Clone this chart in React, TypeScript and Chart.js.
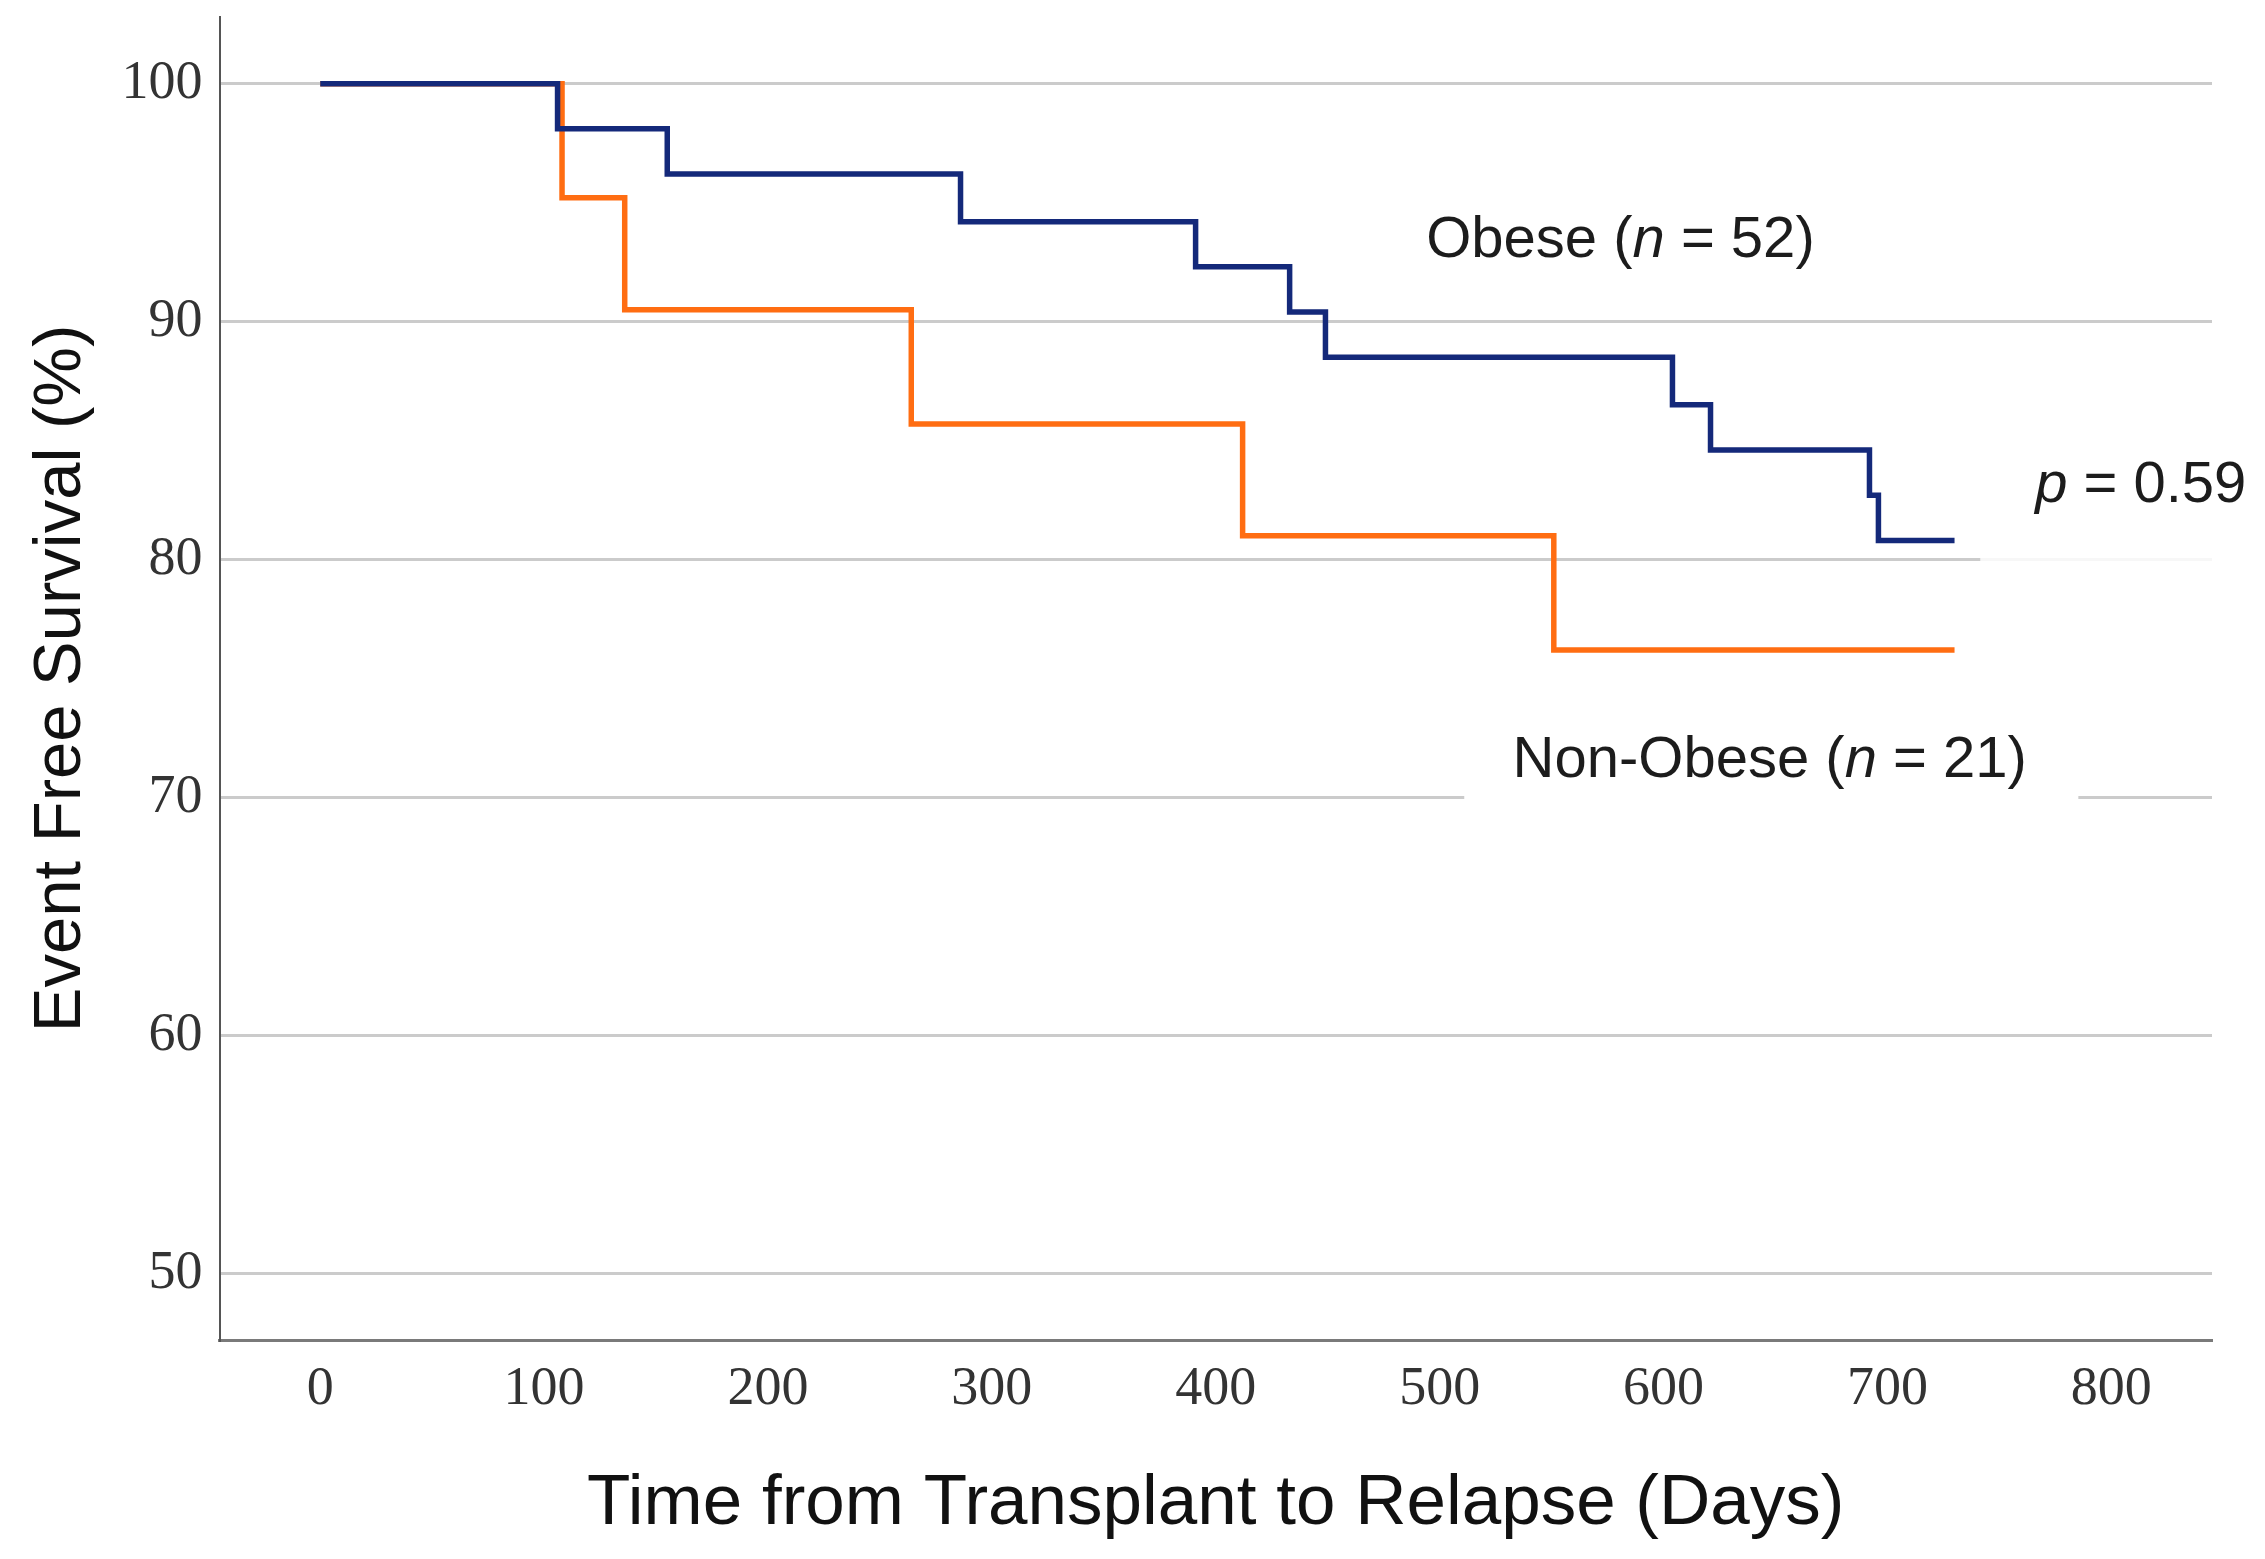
import React, { useEffect, useRef } from "react";
import { Chart, registerables } from "chart.js";

Chart.register(...registerables);

// ---- data ----
const obeseDays = [0, 106, 155, 286, 391, 433, 449, 604, 621, 692, 696, 730];
const obeseSurvival = [100, 98.1, 96.2, 94.2, 92.3, 90.4, 88.5, 86.5, 84.6, 82.7, 80.8, 80.8];
const nonObeseDays = [0, 108, 136, 264, 412, 551, 730];
const nonObeseSurvival = [100, 95.2, 90.5, 85.7, 81.0, 76.2, 76.2];
const xTickValues = [0, 100, 200, 300, 400, 500, 600, 700, 800];
const yTickValues = [50, 60, 70, 80, 90, 100];
const xTitle = "Time from Transplant to Relapse (Days)";
const yTitle = "Event Free Survival (%)";
const obeseLabel: [string, boolean][] = [["Obese (", false], ["n", true], [" = 52)", false]];
const pLabel: [string, boolean][] = [["p", true], [" = 0.59", false]];
const nonObeseLabel: [string, boolean][] = [["Non-Obese (", false], ["n", true], [" = 21)", false]];

// ---- layout of annotations (in data units) ----
const annotationLayout = [
  { parts: obeseLabel, day: 494, value: 93.4, mask: null as null | number[], alpha: 1 },
  { parts: pLabel, day: 766, value: 83.1, mask: [741.5, 900, 85.5, 78.5], alpha: 0.85 },
  { parts: nonObeseLabel, day: 532.6, value: 71.55, mask: [511, 785.3, 73.6, 68.8], alpha: 1 },
];

const W = 2265;
const H = 1559;

const annotationPlugin = {
  id: "kmAnnotations",
  beforeDatasetsDraw(chart: any) {
    const { ctx, scales, chartArea } = chart;
    const xs = scales.x;
    const ys = scales.y;
    ctx.save();
    for (const a of annotationLayout) {
      if (a.mask) {
        const x0 = xs.getPixelForValue(a.mask[0]);
        const x1 = Math.min(xs.getPixelForValue(a.mask[1]), chartArea.right + 2);
        const y0 = ys.getPixelForValue(a.mask[2]);
        const y1 = ys.getPixelForValue(a.mask[3]);
        ctx.fillStyle = `rgba(255,255,255,${a.alpha})`;
        ctx.fillRect(x0, y0, x1 - x0, y1 - y0);
      }
    }
    ctx.fillStyle = "#1c1c1c";
    ctx.textBaseline = "middle";
    ctx.textAlign = "left";
    for (const a of annotationLayout) {
      let x = xs.getPixelForValue(a.day);
      const y = ys.getPixelForValue(a.value);
      for (const [text, italic] of a.parts) {
        ctx.font = `${italic ? "italic " : ""}58px 'Liberation Sans', Arial, sans-serif`;
        ctx.fillText(text, x, y);
        x += ctx.measureText(text).width;
      }
    }
    ctx.restore();
  },
};

const zeroPadding = (scale: any) => {
  scale.paddingTop = 0;
  scale.paddingBottom = 0;
  scale.paddingLeft = 0;
  scale.paddingRight = 0;
};

export default function App() {
  const canvasRef = useRef<HTMLCanvasElement | null>(null);

  useEffect(() => {
    const canvas = canvasRef.current;
    if (!canvas) return;
    const chart = new Chart(canvas, {
      type: "line",
      data: {
        datasets: [
          {
            label: "Obese",
            data: obeseDays.map((d, i) => ({ x: d, y: obeseSurvival[i] })),
            borderColor: "#14297a",
            borderWidth: 5.5,
            stepped: "before",
            pointRadius: 0,
            fill: false,
            borderJoinStyle: "miter",
            borderCapStyle: "butt",
          },
          {
            label: "Non-Obese",
            data: nonObeseDays.map((d, i) => ({ x: d, y: nonObeseSurvival[i] })),
            borderColor: "#ff6d12",
            borderWidth: 5.5,
            stepped: "before",
            pointRadius: 0,
            fill: false,
            borderJoinStyle: "miter",
            borderCapStyle: "butt",
          },
        ],
      },
      options: {
        animation: false,
        responsive: false,
        devicePixelRatio: 1,
        layout: { padding: { top: 17, right: 53, left: 0, bottom: 0 } },
        plugins: {
          legend: { display: false },
          tooltip: { enabled: false },
        },
        scales: {
          x: {
            type: "linear",
            min: -45,
            max: 845,
            afterBuildTicks: (scale: any) => {
              scale.ticks = xTickValues.map((v) => ({ value: v }));
            },
            afterFit: (scale: any) => {
              scale.height = H - 1340;
              zeroPadding(scale);
            },
            grid: { display: false, drawTicks: false },
            border: { display: true, color: "#7a7a7a", width: 3 },
            ticks: {
              padding: 17,
              color: "#333333",
              font: { family: "'Liberation Serif', 'Times New Roman', serif", size: 54, lineHeight: 1.2 },
              maxRotation: 0,
              autoSkip: false,
            },
            title: {
              display: true,
              text: xTitle,
              color: "#111111",
              font: { family: "'Liberation Sans', Arial, sans-serif", size: 71, lineHeight: 1.2 },
              padding: { top: 0, bottom: 12 },
            },
          },
          y: {
            type: "linear",
            min: 47.2,
            max: 102.8,
            afterBuildTicks: (scale: any) => {
              scale.ticks = yTickValues.map((v) => ({ value: v }));
            },
            afterFit: (scale: any) => {
              scale.width = 219.5;
              zeroPadding(scale);
            },
            grid: { color: "#cbcbcb", lineWidth: 3, drawTicks: false },
            border: { display: true, color: "#555555", width: 2 },
            ticks: {
              padding: 17,
              color: "#333333",
              font: { family: "'Liberation Serif', 'Times New Roman', serif", size: 54, lineHeight: 1.2 },
              autoSkip: false,
            },
            title: {
              display: true,
              text: yTitle,
              color: "#111111",
              font: { family: "'Liberation Sans', Arial, sans-serif", size: 67, lineHeight: 1.2 },
              padding: { top: 21, bottom: 0 },
            },
          },
        },
      } as any,
      plugins: [annotationPlugin],
    });
    return () => chart.destroy();
  }, []);

  return (
    <div style={{ position: "absolute", left: 0, top: 0, width: W, height: H, background: "#ffffff" }}>
      <canvas ref={canvasRef} width={W} height={H} style={{ width: W, height: H, display: "block" }} />
    </div>
  );
}
